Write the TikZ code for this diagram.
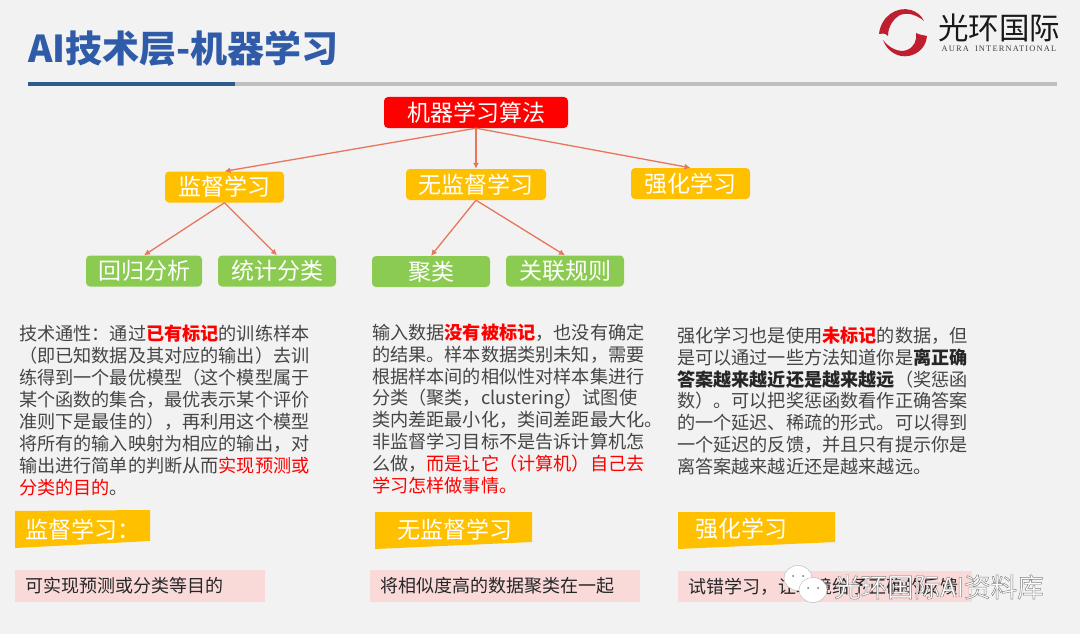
\documentclass[tikz,border=0pt]{standalone}
\usepackage{fontspec}
\setmainfont{Noto Sans CJK SC}
\newfontfamily\LogoFont[LetterSpace=14]{Liberation Serif}
\usetikzlibrary{arrows.meta}
\definecolor{PageGray}{HTML}{F2F2F2}
\definecolor{TitleBlue}{HTML}{2F5BA8}
\definecolor{RuleBlue}{HTML}{2E5C8A}
\definecolor{RuleGray}{HTML}{BFBFBF}
\definecolor{BoxYellow}{HTML}{FFC000}
\definecolor{BoxGreen}{HTML}{8CCB52}
\definecolor{ArrowOrange}{HTML}{E8765A}
\definecolor{BodyGray}{HTML}{454545}
\definecolor{NotePink}{HTML}{F9DAD9}
\definecolor{LogoRed}{HTML}{BE1E2D}
\newcommand{\RedBold}[1]{\textcolor{red}{\bfseries #1}}
\newcommand{\RedText}[1]{\textcolor{red}{#1}}
\newcommand{\DarkBold}[1]{\textcolor{black!85}{\bfseries #1}}
\newcommand{\OutlineText}[1]{\special{pdf:literal direct q 2 Tr 0.45 w 0.5 0.5 0.5 RG}#1\special{pdf:literal direct Q}}
\tikzset{
    TreeBox/.style={rounded corners=4pt,text=white,inner sep=0pt,minimum height=31pt,
        font=\fontsize{23}{25}\selectfont},
    RootBox/.style={TreeBox,fill=red,minimum width=184pt},
    MethodBox/.style={TreeBox,fill=BoxYellow,minimum width=119pt},
    LeafBox/.style={TreeBox,fill=BoxGreen,minimum width=118pt},
    BodyText/.style={anchor=north west,align=left,inner sep=0pt,text=BodyGray,
        font=\fontsize{18.15}{21.9}\selectfont},
    TagText/.style={text=white,inner sep=0pt,font=\fontsize{23}{25}\selectfont},
    NoteText/.style={anchor=west,inner sep=0pt,text=black!85,font=\fontsize{18}{20}\selectfont},
    MarkText/.style={inner sep=0pt,text=white,font=\fontsize{26.5}{28}\selectfont}
}
\begin{document}
\begin{tikzpicture}[x=1pt,y=-1pt]
    \fill [PageGray] (0,0) rectangle (1080,634);
    \useasboundingbox (0,0) rectangle (1080,634);

    % Title and rule
    \node [anchor=base west,inner sep=0pt,text=TitleBlue,font=\fontsize{37}{40}\selectfont\bfseries] (Title) at (28,63) {AI技术层-机器学习};
    \fill [RuleGray] (227,82.5) rectangle (1057,86);
    \fill [RuleBlue] (28,82.5) rectangle (235,86);

    % Logo
    \begin{scope}[shift={(11,0)}]
    \fill [LogoRed] (868,34) .. controls (870,16) and (886,6) .. (900,10)
        .. controls (906,12) and (910,15) .. (913,21)
        .. controls (906,15) and (897,12) .. (889,15)
        .. controls (882,19) and (877,27) .. (877,36)
        .. controls (874,33) and (871,33) .. (868,34) -- cycle;
    \fill [LogoRed] (916,36) .. controls (915,50) and (902,58) .. (890,56)
        .. controls (881,54) and (875,48) .. (872,40)
        .. controls (878,48) and (888,53) .. (896,50)
        .. controls (903,47) and (906,41) .. (905,33)
        .. controls (909,35) and (912,35) .. (916,36) -- cycle;
    \end{scope}
    \node [inner sep=0pt,text=black!90,font=\fontsize{30.5}{32}\selectfont] (LogoName) at (999,28) {光环国际};
    \node [inner sep=0pt,text=black!75,font=\LogoFont\fontsize{8.4}{10}\selectfont] (LogoLatin) at (999,49) {AURA\hspace{6pt}INTERNATIONAL};

    % Tree
    \draw (476,112.5) node [RootBox] (Algorithm) {机器学习算法}
    (224.5,187) node [MethodBox] (Supervised) {监督学习}
    (476,184.5) node [MethodBox,minimum width=140pt] (Unsupervised) {无监督学习}
    (690.5,183.5) node [MethodBox] (Reinforcement) {强化学习};

    \draw (144,271) node [LeafBox,minimum width=116pt] (Regression) {回归分析}
    (277,271) node [LeafBox] (Classification) {统计分类}
    (431,271.5) node [LeafBox] (Clustering) {聚类}
    (565,271) node [LeafBox] (Association) {关联规则};

    \foreach \x/\y in {Algorithm/Supervised,Algorithm/Unsupervised,Algorithm/Reinforcement,
        Supervised/Regression,Supervised/Classification,
        Unsupervised/Clustering,Unsupervised/Association}
    {
        \draw [-{Latex[length=6pt,width=6pt]},ArrowOrange,line width=1.3pt] (\x.south) -- (\y.north);
    }

    % Body text
    \node [BodyText] (SupervisedText) at (19,325) {技术通性：通过\RedBold{已有标记}的训练样本\\
        （即已知数据及其对应的输出）去训\\
        练得到一个最优模型（这个模型属于\\
        某个函数的集合，最优表示某个评价\\
        准则下是最佳的），再利用这个模型\\
        将所有的输入映射为相应的输出，对\\
        输出进行简单的判断从而\RedText{实现预测或}\\
        \RedText{分类的目的}。};
    \node [BodyText] (UnsupervisedText) at (372,323.5) {输入数据\RedBold{没有被标记}，也没有确定\\
        的结果。样本数据类别未知，需要\\
        根据样本间的相似性对样本集进行\\
        分类（聚类，clustering）试图使\\
        类内差距最小化，类间差距最大化。\\
        非监督学习目标不是告诉计算机怎\\
        么做，\RedText{而是让它（计算机）自己去}\\
        \RedText{学习怎样做事情。}};
    \node [BodyText] (ReinforcementText) at (677,326.5) {强化学习也是使用\RedBold{未标记}的数据，但\\
        是可以通过一些方法知道你是\DarkBold{离正确}\\
        \DarkBold{答案越来越近还是越来越远}（奖惩函\\
        数）。可以把奖惩函数看作正确答案\\
        的一个延迟、稀疏的形式。可以得到\\
        一个延迟的反馈，并且只有提示你是\\
        离答案越来越近还是越来越远。};

    % Tags
    \fill [BoxYellow] (15,511) -- (150,510) -- (150,541) -- (15,548) -- cycle;
    \fill [BoxYellow] (375,512) -- (532,512) -- (532,542) -- (375,549) -- cycle;
    \fill [BoxYellow] (678,512) -- (835,512) -- (835,542) -- (678,549) -- cycle;
    \node [TagText,anchor=west] (SupervisedTag) at (25,530) {监督学习：};
    \node [TagText,anchor=west] (UnsupervisedTag) at (397,530) {无监督学习};
    \node [TagText,anchor=west] (ReinforcementTag) at (695,529) {强化学习};

    % Notes
    \fill [NotePink] (15,570) rectangle (265,602);
    \fill [NotePink] (370,570) rectangle (640,602);
    \fill [NotePink] (678,571) rectangle (972,602);
    \node [NoteText] (SupervisedNote) at (25,586) {可实现预测或分类等目的};
    \node [NoteText] (UnsupervisedNote) at (380,586) {将相似度高的数据聚类在一起};
    \node [NoteText] (ReinforcementNote) at (688,587) {试错学习，让环境给予正确的反馈};

    % Watermark
    \foreach \cx/\cy in {798/578,813/590}
    {
        \fill [white,draw=black!25,line width=0.5pt] (\cx,\cy) ellipse (14pt and 12.5pt);
        \fill [black!55] (\cx-5,\cy-2) circle (1pt) (\cx+5,\cy-2) circle (1pt);
    }
    \node [MarkText] (Mark) at (939,587) {\OutlineText{光环国际AI资料库}};
\end{tikzpicture}
\end{document}
